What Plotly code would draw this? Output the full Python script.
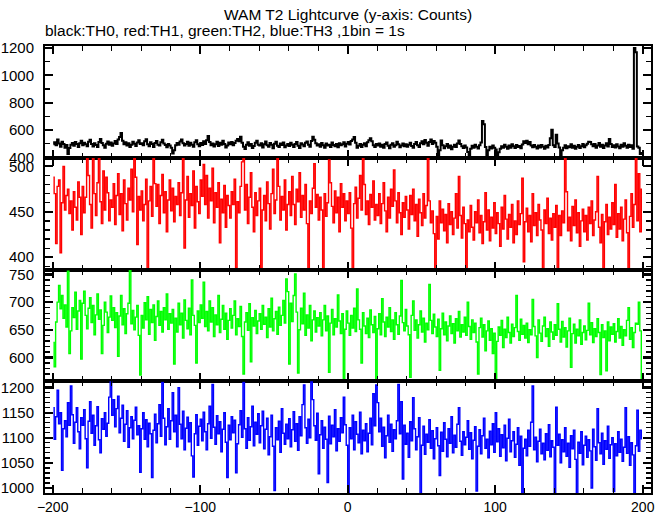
import numpy as np
import plotly.graph_objects as go
from plotly.subplots import make_subplots

# ---- data: 1 s bins from -200 s to +199 s ----
th0 = [
    495, 510, 488, 530, 502, 478, 515, 498, 470, 490, 425, 468, 492, 505, 485, 512, 498, 476, 503, 521,
    489, 507, 495, 482, 515, 528, 497, 480, 503, 491, 476, 512, 534, 505, 488, 470, 499, 516, 493, 508,
    485, 502, 519, 497, 530, 548, 578, 522, 496, 510, 487, 503, 475, 492, 514, 500, 483, 509, 526, 498,
    504, 489, 517, 532, 495, 482, 511, 498, 476, 505, 520, 493, 486, 511, 528, 502, 490, 473, 497, 486,
    470, 428, 452, 488, 505, 492, 516, 531, 503, 487, 498, 515, 484, 507, 492, 478, 511, 526, 496, 482,
    505, 490, 518, 497, 526, 556, 512, 488, 502, 479, 495, 514, 483, 507, 492, 521, 498, 472, 487, 509,
    496, 513, 488, 505, 522, 534, 518, 551, 507, 478, 461, 493, 510, 484, 497, 469, 483, 506, 521, 492,
    487, 503, 472, 495, 516, 488, 478, 505, 492, 467, 499, 514, 485, 476, 502, 491, 509, 473, 486, 498,
    483, 507, 492, 476, 498, 512, 485, 469, 503, 494, 481, 507, 516, 492, 478, 520, 551, 528, 503, 487,
    496, 478, 505, 489, 471, 502, 486, 493, 476, 508, 490, 482, 497, 474, 503, 488, 495, 511, 479, 500,
    512, 494, 520, 531, 548, 507, 470, 485, 498, 476, 492, 503, 481, 510, 526, 540, 518, 489, 475, 497,
    486, 502, 478, 493, 471, 497, 509, 484, 467, 492, 503, 478, 489, 515, 496, 474, 487, 501, 482, 495,
    478, 492, 506, 483, 470, 497, 512, 488, 476, 503, 518, 495, 527, 506, 484, 512, 531, 498, 520, 507,
    478, 404, 452, 524, 489, 466, 482, 497, 471, 486, 460, 478, 493, 476, 502, 524, 497, 481, 468, 487,
    472, 440, 404, 462, 485, 470, 493, 478, 465, 489, 508, 666, 642, 476, 414, 452, 478, 465, 486, 470,
    458, 414, 437, 462, 481, 470, 492, 478, 463, 487, 471, 496, 482, 468, 490, 475, 483, 466, 494, 518,
    505, 521, 496, 512, 487, 473, 490, 478, 464, 486, 472, 491, 478, 463, 485, 472, 490, 540, 602, 488,
    476, 565, 502, 472, 410, 452, 470, 488, 466, 481, 473, 495, 470, 484, 462, 478, 491, 468, 482, 497,
    473, 488, 500, 515, 512, 496, 482, 498, 470, 487, 505, 478, 492, 469, 486, 503, 480, 535, 498, 476,
    489, 472, 496, 480, 467, 492, 478, 503, 484, 470, 493, 476, 488, 462, 1200, 1170, 480, 470, 425, 432,
]

th1 = [
    488, 470, 415, 478, 485, 405, 460, 500, 452, 468, 475, 448, 462, 430, 472, 455, 441, 483, 466, 425,
    478, 449, 466, 515, 490, 458, 432, 512, 470, 446, 482, 510, 461, 437, 495, 452, 488, 471, 440, 463,
    455, 481, 436, 468, 492, 447, 470, 429, 485, 459, 441, 476, 463, 497, 450, 512, 488, 414, 467, 452,
    473, 440, 458, 486, 386, 462, 478, 445, 512, 481, 456, 480, 437, 468, 491, 449, 472, 428, 463, 485,
    451, 476, 439, 467, 458, 482, 446, 471, 512, 410, 463, 489, 444, 470, 457, 495, 432, 478, 461, 448,
    485, 467, 502, 458, 490, 443, 476, 462, 498, 438, 471, 455, 482, 416, 464, 449, 479, 433, 468, 457,
    443, 472, 458, 486, 388, 461, 449, 478, 505, 515, 452, 480, 437, 466, 493, 455, 428, 471, 446, 462,
    476, 387, 452, 468, 440, 483, 459, 431, 470, 497, 448, 463, 512, 478, 441, 467, 452, 485, 430, 458,
    472, 446, 489, 458, 436, 475, 461, 493, 444, 468, 452, 480, 437, 386, 462, 448, 476, 503, 455, 469,
    441, 466, 452, 387, 470, 445, 460, 507, 482, 456, 438, 473, 449, 466, 428, 481, 455, 470, 440, 462,
    448, 471, 432, 386, 459, 477, 443, 465, 490, 452, 512, 480, 447, 462, 436, 469, 455, 484, 441, 458,
    446, 470, 437, 459, 482, 451, 428, 466, 443, 475, 456, 496, 462, 438, 471, 449, 425, 460, 444, 467,
    452, 431, 468, 447, 475, 440, 458, 423, 464, 449, 435, 470, 443, 457, 512, 462, 438, 451, 426, 387,
    445, 420, 462, 438, 453, 429, 447, 416, 459, 436, 450, 425, 443, 470, 432, 489, 446, 421, 455, 437,
    387, 441, 428, 457, 433, 419, 450, 438, 463, 427, 446, 415, 439, 471, 430, 452, 418, 444, 432, 460,
    426, 449, 437, 412, 455, 431, 468, 442, 420, 447, 433, 458, 416, 440, 425, 462, 436, 448, 487, 395,
    439, 454, 428, 446, 417, 470, 435, 449, 424, 458, 441, 430, 386, 452, 437, 465, 426, 443, 419, 448,
    433, 457, 387, 446, 424, 451, 438, 512, 472, 429, 444, 418, 456, 435, 463, 427, 449, 412, 440, 453,
    428, 446, 419, 455, 437, 462, 424, 441, 450, 489, 433, 416, 447, 386, 439, 458, 425, 444, 431, 460,
    436, 480, 422, 448, 431, 455, 418, 442, 463, 427, 386, 445, 470, 433, 458, 512, 440, 492, 428, 475,
]

th2 = [
    627, 583, 664, 700, 730, 688, 712, 671, 695, 655, 756, 607, 648, 690, 672, 718, 651, 684, 703, 597,
    698, 720, 676, 652, 689, 708, 663, 694, 641, 677, 715, 669, 686, 607, 658, 700, 682, 645, 673, 711,
    667, 690, 654, 681, 602, 675, 712, 659, 688, 643, 679, 698, 758, 661, 685, 650, 673, 694, 640, 568,
    676, 653, 699, 668, 710, 642, 687, 663, 695, 631, 674, 702, 658, 683, 646, 690, 668, 715, 651, 679,
    662, 687, 588, 671, 646, 698, 659, 680, 635, 704, 667, 652, 689, 641, 740, 676, 658, 590, 684, 663,
    695, 671, 736, 656, 683, 648, 702, 664, 690, 638, 677, 659, 712, 645, 669, 694, 651, 680, 633, 667,
    688, 653, 676, 702, 641, 670, 656, 692, 638, 570, 664, 681, 649, 697, 592, 672, 657, 685, 643, 666,
    679, 651, 694, 660, 673, 636, 688, 655, 707, 648, 670, 683, 642, 691, 658, 676, 703, 662, 742, 719,
    588, 698, 665, 712, 751, 682, 572, 650, 689, 661, 716, 640, 677, 653, 694, 630, 668, 684, 646, 672,
    657, 681, 639, 668, 694, 648, 675, 573, 662, 687, 641, 670, 655, 713, 666, 643, 679, 557, 651, 684,
    662, 640, 676, 653, 689, 647, 724, 668, 651, 590, 681, 657, 643, 671, 636, 686, 659, 645, 674, 560,
    652, 679, 641, 706, 664, 638, 673, 655, 690, 647, 668, 633, 681, 659, 642, 675, 739, 663, 648, 687,
    657, 641, 564, 676, 702, 649, 668, 635, 659, 684, 646, 671, 628, 662, 650, 732, 667, 643, 678, 655,
    638, 669, 577, 652, 680, 641, 664, 630, 657, 675, 643, 661, 626, 670, 648, 683, 637, 659, 646, 673,
    640, 700, 656, 633, 668, 645, 662, 628, 570, 654, 671, 637, 659, 612, 648, 666, 631, 652, 607, 644,
    557, 629, 655, 640, 667, 618, 651, 636, 673, 645, 626, 660, 638, 654, 712, 647, 631, 669, 642, 658,
    635, 662, 627, 650, 641, 705, 656, 639, 600, 668, 644, 629, 657, 673, 638, 652, 620, 664, 646, 633,
    659, 640, 697, 651, 628, 665, 637, 654, 619, 648, 671, 582, 643, 660, 626, 651, 639, 668, 624, 645,
    657, 632, 649, 698, 641, 663, 627, 652, 638, 670, 645, 569, 659, 636, 648, 576, 664, 630, 655, 642,
    661, 628, 647, 670, 635, 656, 622, 650, 639, 667, 690, 633, 654, 618, 645, 662, 660, 700, 648, 550,
]

th3 = [
    1160, 1097, 1142, 1195, 1128, 1150, 1035, 1118, 1134, 1102, 1170, 1125, 1203, 1146, 1089, 1131, 1160, 1112, 1078, 1140,
    1125, 1156, 1098, 1040, 1133, 1172, 1109, 1145, 1085, 1124, 1162, 1096, 1070, 1138, 1117, 1150, 1103, 1129, 1181, 1213,
    1145, 1176, 1122, 1158, 1183, 1110, 1139, 1165, 1093, 1127, 1154, 1081, 1120, 1142, 1098, 1135, 1161, 1106, 1124, 1031,
    1118, 1150, 1097, 1136, 1082, 1129, 1108, 1021, 1115, 1147, 1090, 1128, 1166, 1103, 1210, 1139, 1086, 1122, 1158, 1097,
    1134, 1190, 1112, 1145, 1082, 1200, 1127, 1098, 1153, 1076, 1119, 1141, 1092, 1130, 1064, 1022, 1108, 1146, 1085, 1123,
    1137, 1094, 1151, 1112, 1076, 1128, 1163, 1099, 1206, 1121, 1087, 1144, 1108, 1132, 1072, 1117, 1150, 1091, 1021, 1125,
    1096, 1142, 1110, 1135, 1030, 1088, 1126, 1154, 1101, 1210, 1118, 1079, 1140, 1095, 1122, 1163, 1084, 1131, 1107, 1148,
    1090, 1124, 1153, 1078, 1117, 1139, 1066, 1102, 1145, 1083, 995, 1120, 1096, 1133, 1071, 1158, 1109, 1087, 1127, 1098,
    1138, 1082, 1116, 1152, 1093, 1128, 1075, 1142, 1104, 1166, 1205, 1120, 1089, 1137, 1100, 1212, 1176, 1124, 1095, 1149,
    1028, 1106, 1134, 1079, 1121, 1097, 1011, 1143, 1088, 1125, 1102, 1156, 1074, 1118, 1093, 1140, 1110, 1181, 1126, 1085,
    988, 1120, 1098, 1145, 1076, 1132, 1107, 1090, 1151, 1068, 1115, 1094, 1128, 1072, 1109, 1139, 1086, 1188, 1124, 1205,
    1170, 1112, 1139, 1083, 1121, 1060, 1104, 1145, 1091, 1127, 1073, 1116, 1098, 1134, 1206, 1108, 1172, 1018, 1125, 1087,
    1109, 1061, 1132, 1094, 1180, 1118, 1076, 1102, 1140, 988, 1085, 1123, 1067, 1107, 1091, 1136, 1079, 1114, 1058, 1098,
    1120, 1084, 1025, 1111, 1073, 1130, 1097, 1062, 1118, 1089, 1142, 1070, 1105, 1081, 1127, 1160, 1093, 1065, 1112, 1086,
    1101, 1134, 1077, 1110, 1058, 1095, 1122, 994, 1083, 1116, 1068, 1104, 1139, 1079, 1097, 1060, 1113, 1086, 1128, 1071,
    1150, 1092, 1118, 1063, 1106, 1080, 1125, 1054, 1099, 1137, 1072, 1094, 1112, 1061, 1087, 1120, 1045, 1103, 988, 1079,
    1097, 1064, 1115, 1083, 1131, 1203, 1076, 1101, 1052, 1093, 1117, 1068, 1089, 1056, 1108, 1075, 1126, 1062, 1094, 1081,
    988, 1161, 1085, 1107, 1050, 1096, 1072, 1120, 1063, 1089, 1041, 1104, 1078, 1115, 1057, 988, 1091, 1069, 1112, 1046,
    1085, 1103, 1061, 1096, 1074, 1000, 1117, 1082, 1055, 1158, 1090, 1068, 1109, 1047, 1094, 1077, 1123, 1059, 1086, 1100,
    993, 1088, 1064, 1112, 1071, 1097, 1053, 1081, 1160, 1069, 1102, 1045, 1090, 1066, 988, 1084, 1155, 1073, 1115, 1098,
]

series = [th0, th1, th2, th3]
colors = ["#000000", "#ff0000", "#00ff00", "#0000ff"]
widths = [2.0, 1.4, 1.4, 1.4]
y_ranges = [[397, 1215], [386.5, 509.5], [557, 759], [990, 1212.6]]
y_dticks = [200, 50, 50, 50]
y_minor = [100, 10, 10, 10]
x_range = [-205.2, 205.6]

title_text = "WAM T2 Lightcurve (y-axis: Counts)"
subtitle_text = "black:TH0, red:TH1, green:TH2, blue:TH3 ,1bin = 1s"

FONT = "Liberation Sans"

fig = make_subplots(rows=4, cols=1, shared_xaxes=True, vertical_spacing=0)

for i, (ys, c, w) in enumerate(zip(series, colors, widths)):
    x = -199.5 + np.arange(len(ys))
    fig.add_trace(
        go.Scatter(x=x, y=ys, mode="lines", line=dict(color=c, width=w, shape="hvh"),
                   showlegend=False, hoverinfo="skip"),
        row=i + 1, col=1,
    )

axis_common = dict(
    showline=True, linewidth=2, linecolor="black", mirror="allticks",
    ticks="inside", ticklen=8, tickwidth=2.2, tickcolor="black",
    showgrid=False, zeroline=False, automargin=False,
)

for i in range(4):
    fig.update_xaxes(
        range=x_range, dtick=100, tick0=0,
        minor=dict(ticks="inside", ticklen=5, tickwidth=1.3, tickcolor="black", dtick=20, tick0=0, showgrid=False),
        showticklabels=(i == 3),
        tickfont=dict(family=FONT, size=14, color="black"),
        **axis_common, row=i + 1, col=1,
    )
    fig.update_yaxes(
        range=y_ranges[i], dtick=y_dticks[i], tick0=0,
        minor=dict(ticks="inside", ticklen=5, tickwidth=1.3, tickcolor="black", dtick=y_minor[i], tick0=0, showgrid=False),
        ticklabelstandoff=6,
        tickfont=dict(family=FONT, size=15, color="black"),
        **axis_common, row=i + 1, col=1,
    )

fig.add_annotation(text=title_text, x=0.5, y=1.071, xref="paper", yref="paper",
                   xanchor="center", yanchor="middle", showarrow=False,
                   font=dict(family=FONT, size=15.5, color="black"))
fig.add_annotation(text=subtitle_text, x=-0.003, y=1.035, xref="paper", yref="paper",
                   xanchor="left", yanchor="middle", showarrow=False,
                   font=dict(family=FONT, size=15.5, color="black"))

fig.update_layout(
    width=669, height=515,
    margin=dict(l=45, r=18, t=46, b=22),
    paper_bgcolor="white", plot_bgcolor="white",
    font=dict(family=FONT, size=15, color="black"),
)

# remove the default 8 px page margin so the figure fills the window exactly
fig.write_html(
    "out.html",
    config={"displayModeBar": False, "staticPlot": True},
    post_script="document.body.style.margin='0px';document.body.style.overflow='hidden';",
)
